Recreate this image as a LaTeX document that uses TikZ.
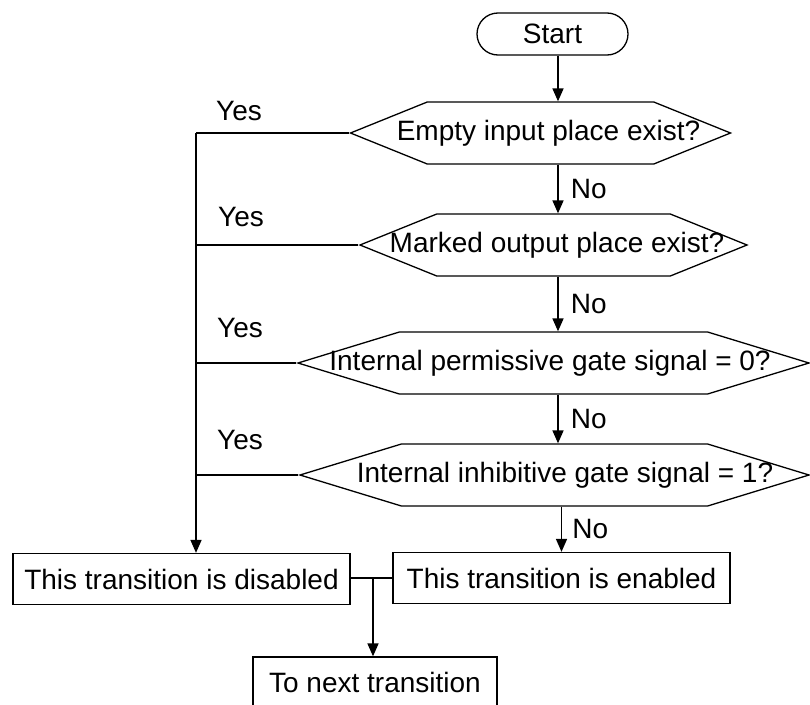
\documentclass[tikz,border=0pt]{standalone}
\usepackage{fontspec}
\setmainfont{Liberation Sans}
\usetikzlibrary{arrows.meta,positioning,shapes.misc,shapes.symbols}

\tikzset{
  flowtext/.style={font=\fontsize{28}{31}\selectfont},
  startbox/.style={rounded rectangle, draw, line width=1.3pt, minimum width=151pt, minimum height=42pt, inner sep=0pt, flowtext},
  decision/.style={signal, signal to=west and east, draw, line width=1.3pt, minimum height=62pt, inner sep=0pt, flowtext},
  actionbox/.style={rectangle, draw, line width=1.3pt, minimum height=51pt, inner sep=0pt, flowtext},
  flowline/.style={line width=1.6pt},
  flowarrow/.style={flowline, -{Triangle[length=13pt,width=11pt]}},
  answer/.style={flowtext, inner sep=2pt},
}

\begin{document}
\begin{tikzpicture}[x=1pt, y=-1pt]
  \useasboundingbox (0,0) rectangle (810,704);

  %%% nodes
  \node[startbox] (start) at (552.5,34) {Start};

  \node[decision, minimum width=380pt, signal pointer angle=44] (empty) at (540.5,133) {\makebox[0pt]{\hspace{16pt}Empty input place exist?}};
  \node[decision, minimum width=387pt, signal pointer angle=44] (marked) at (553.5,245) {\makebox[0pt]{\hspace{7pt}Marked output place exist?}};
  \node[decision, minimum width=511pt, signal pointer angle=34] (permit) at (553.5,363) {\makebox[0pt]{\hspace{-7pt}Internal permissive gate signal = 0?}};
  \node[decision, minimum width=509pt, signal pointer angle=34] (inhibit) at (554.5,475) {\makebox[0pt]{\hspace{21pt}Internal inhibitive gate signal = 1?}};

  \node[actionbox, minimum width=337pt] (disabled) at (181.5,579) {This transition is disabled};
  \node[actionbox, minimum width=337pt] (enabled) at (561.5,578) {This transition is enabled};
  \node[actionbox, minimum width=244pt] (next) at (375,682.5) {To next transition};

  \node[answer] (yes1) at (239,111) {Yes};
  \node[answer] (yes2) at (241,217) {Yes};
  \node[answer] (yes3) at (240,328) {Yes};
  \node[answer] (yes4) at (240,440) {Yes};

  \coordinate (spine) at (558,0);
  \coordinate (rail) at (196,0);
  \coordinate (join) at (373,578);

  %%% the No branch
  \draw[flowarrow] (start.south -| spine) -- (empty.north -| spine);
  \draw[flowarrow] (empty.south -| spine) -- node[answer, right=10pt] {No} (marked.north -| spine);
  \draw[flowarrow] (marked.south -| spine) -- node[answer, right=10pt] {No} (permit.north -| spine);
  \draw[flowarrow] (permit.south -| spine) -- node[answer, right=10pt] {No} (inhibit.north -| spine);
  \draw[flowarrow] (inhibit.south -| enabled.north) -- node[answer, right=8pt] {No} (enabled.north);

  %%% the Yes branch
  \draw[flowline] (empty.west) -- (empty.west -| rail);
  \draw[flowline] (marked.west) -- (marked.west -| rail);
  \draw[flowline] (permit.west) -- (permit.west -| rail);
  \draw[flowline] (inhibit.west) -- (inhibit.west -| rail);
  \draw[flowarrow] (empty.west -| rail) -- (disabled.north -| rail);

  %%% to the next one
  \draw[flowline] (disabled.east |- join) -- (enabled.west |- join);
  \draw[flowarrow] (join) -- (next.north -| join);
\end{tikzpicture}
\end{document}
